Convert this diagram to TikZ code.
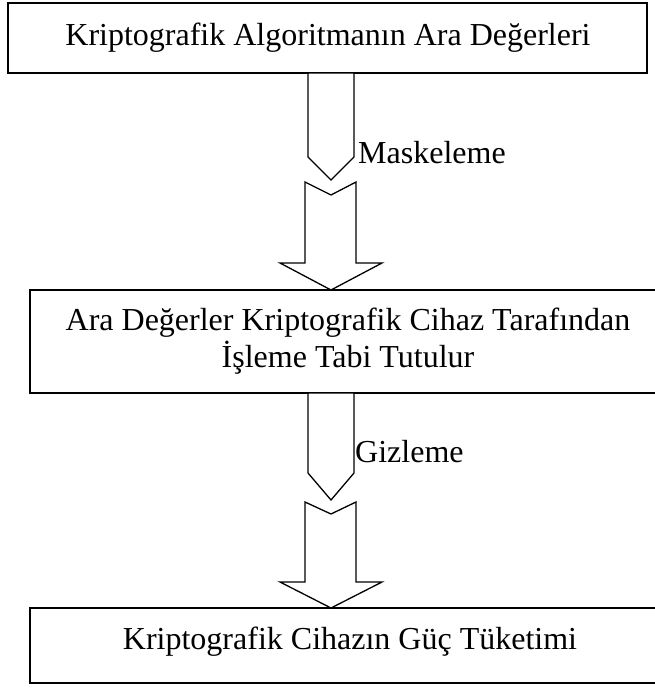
\documentclass[tikz,border=0pt]{standalone}
\usepackage{fontspec}
\setmainfont{Liberation Serif}
\begin{document}
\begin{tikzpicture}[x=1pt,y=-1pt,
  box/.style={draw=black, line width=1.6pt, fill=white},
  boxtext/.style={font=\fontsize{32}{37}\selectfont, anchor=base, inner sep=0pt},
  blockarrow/.style={draw=black, line width=1.3pt, fill=white, line join=miter},
  label/.style={font=\fontsize{32}{37}\selectfont, anchor=base west, inner sep=0pt}]
\useasboundingbox (0,0) rectangle (655,689);

% frames (the lower two run past the right edge of the page)
\draw[box] (8,3) rectangle (647,73);
\draw[box] (30,290) rectangle (666,393);
\draw[box] (30,608) rectangle (666,683);

% frame texts
\node[boxtext] (b1)  at (328,45)  {Kriptografik Algoritmanın Ara Değerleri};
\node[boxtext] (b2a) at (348,330) {Ara Değerler Kriptografik Cihaz Tarafından};
\node[boxtext] (b2b) at (348,367) {İşleme Tabi Tutulur};
\node[boxtext] (b3)  at (350,649) {Kriptografik Cihazın Güç Tüketimi};

% first block arrow: pentagon shaft and chevron head
\draw[blockarrow] (308,73) -- (354,73) -- (354,157) -- (331,180) -- (308,157) -- cycle;
\draw[blockarrow] (305,182) -- (331,195) -- (356,182) -- (356,263) -- (382,263)
  -- (331,290) -- (280,263) -- (305,263) -- cycle;
\node[label] (m) at (358,163) {Maskeleme};

% second block arrow
\draw[blockarrow] (308,393) -- (354,393) -- (354,473) -- (331,500) -- (308,473) -- cycle;
\draw[blockarrow] (305,502) -- (331,514) -- (356,502) -- (356,582) -- (382,582)
  -- (331,608) -- (280,582) -- (305,582) -- cycle;
\node[label] (g) at (355,462) {Gizleme};
\end{tikzpicture}
\end{document}
